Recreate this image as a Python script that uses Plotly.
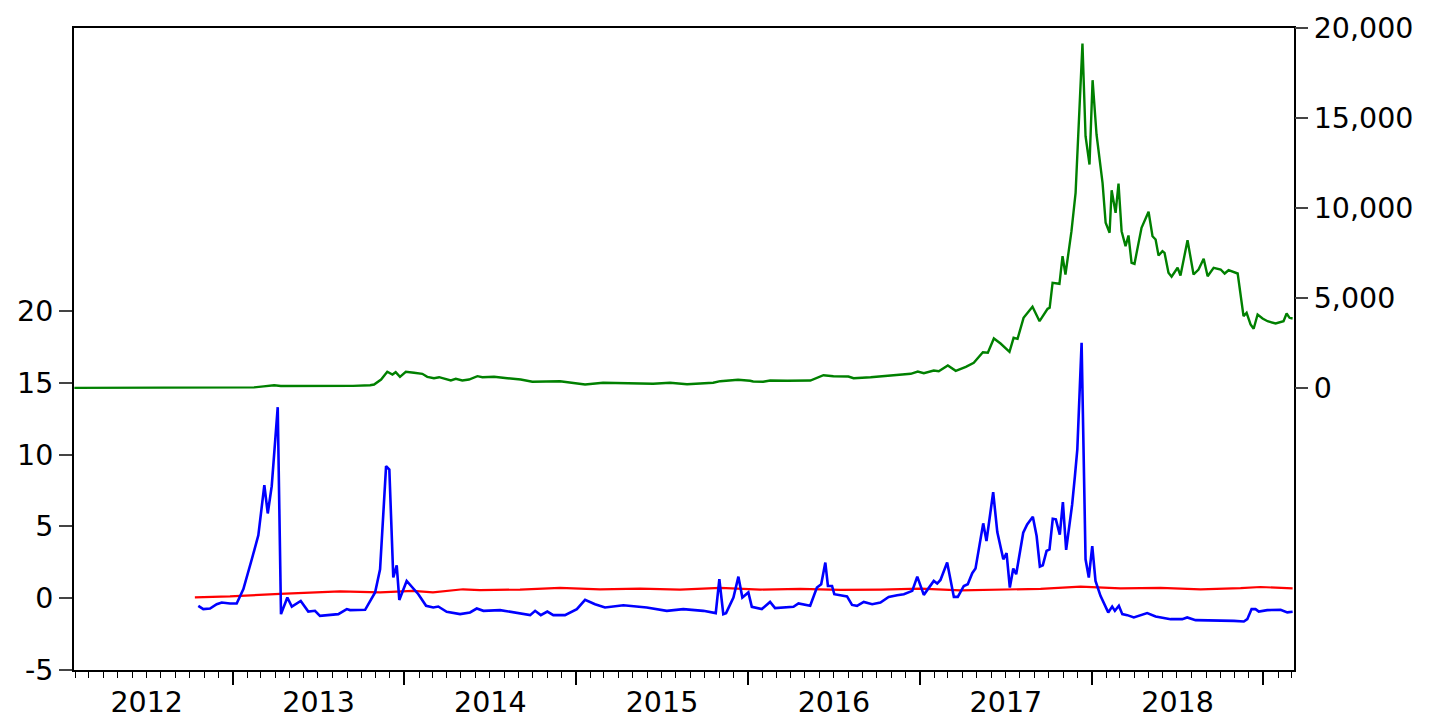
import pandas as pd
import plotly.graph_objects as go

# decimal-year positions
price_t = [2012.080, 2012.300, 2012.542, 2012.800, 2013.000, 2013.124, 2013.180, 2013.241,
           2013.280, 2013.400, 2013.550, 2013.700, 2013.800, 2013.823, 2013.864, 2013.900,
           2013.930, 2013.949, 2013.974, 2014.008, 2014.056, 2014.104, 2014.133, 2014.172,
           2014.202, 2014.270, 2014.299, 2014.337, 2014.376, 2014.425, 2014.454, 2014.522,
           2014.599, 2014.677, 2014.745, 2014.906, 2015.052, 2015.157, 2015.448, 2015.547,
           2015.646, 2015.798, 2015.839, 2015.943, 2016.013, 2016.031, 2016.089, 2016.130,
           2016.229, 2016.363, 2016.439, 2016.497, 2016.584, 2016.614, 2016.713, 2016.812,
           2016.946, 2016.987, 2017.022, 2017.080, 2017.109, 2017.162, 2017.208, 2017.267,
           2017.313, 2017.366, 2017.395, 2017.430, 2017.469, 2017.521, 2017.545, 2017.568,
           2017.603, 2017.655, 2017.696, 2017.743, 2017.755, 2017.772, 2017.812, 2017.830,
           2017.847, 2017.882, 2017.906, 2017.946, 2017.964, 2017.987, 2018.005, 2018.028,
           2018.063, 2018.081, 2018.104, 2018.116, 2018.139, 2018.156, 2018.174, 2018.197,
           2018.214, 2018.232, 2018.249, 2018.290, 2018.331, 2018.354, 2018.372, 2018.389,
           2018.412, 2018.424, 2018.447, 2018.465, 2018.500, 2018.517, 2018.558, 2018.593,
           2018.622, 2018.652, 2018.675, 2018.710, 2018.751, 2018.774, 2018.797, 2018.850,
           2018.861, 2018.884, 2018.902, 2018.925, 2018.943, 2018.966, 2018.995, 2019.024,
           2019.071, 2019.117, 2019.135, 2019.152, 2019.170]
price = [5, 5, 9, 11, 13, 35, 90, 150,
         110, 115, 95, 120, 150, 194, 472, 900,
         750, 878, 622, 900, 844, 789, 622, 544,
         600, 417, 511, 417, 472, 656, 600, 622,
         544, 472, 344, 378, 194, 289, 233, 289,
         211, 289, 378, 456, 400, 361, 344, 417,
         400, 417, 711, 656, 639, 544, 600, 694,
         789, 917, 822, 972, 933, 1250, 956, 1178,
         1400, 1989, 1956, 2750, 2472, 2011, 2789, 2733,
         3900, 4511, 3711, 4400, 4456, 5844, 5789, 7322,
         6306, 8711, 10844, 19140, 13989, 12417, 17100, 14083,
         11400, 9178, 8622, 10989, 9733, 11361, 8711, 7878,
         8472, 6956, 6900, 8900, 9789, 8433, 8250, 7361,
         7600, 7511, 6400, 6178, 6678, 6250, 8211, 6306,
         6583, 7178, 6211, 6678, 6583, 6361, 6544, 6361,
         5656, 3989, 4178, 3528, 3289, 4083, 3861, 3711,
         3583, 3711, 4139, 3900, 3861]

stat_t = [2012.800, 2012.829, 2012.868, 2012.907, 2012.936, 2012.984, 2013.023, 2013.062,
          2013.111, 2013.149, 2013.184, 2013.204, 2013.227, 2013.262, 2013.281, 2013.318,
          2013.344, 2013.396, 2013.440, 2013.479, 2013.508, 2013.615, 2013.664, 2013.683,
          2013.771, 2013.829, 2013.858, 2013.893, 2013.912, 2013.935, 2013.955, 2013.970,
          2014.013, 2014.081, 2014.126, 2014.168, 2014.197, 2014.246, 2014.324, 2014.382,
          2014.421, 2014.460, 2014.557, 2014.654, 2014.732, 2014.761, 2014.794, 2014.832,
          2014.867, 2014.935, 2015.004, 2015.052, 2015.110, 2015.168, 2015.275, 2015.411,
          2015.528, 2015.624, 2015.741, 2015.813, 2015.834, 2015.857, 2015.873, 2015.916,
          2015.945, 2015.968, 2016.003, 2016.023, 2016.081, 2016.129, 2016.158, 2016.265,
          2016.294, 2016.362, 2016.401, 2016.426, 2016.450, 2016.465, 2016.489, 2016.502,
          2016.576, 2016.605, 2016.634, 2016.673, 2016.722, 2016.770, 2016.818, 2016.867,
          2016.906, 2016.955, 2016.984, 2017.022, 2017.051, 2017.080, 2017.100, 2017.119,
          2017.158, 2017.197, 2017.220, 2017.255, 2017.278, 2017.304, 2017.323, 2017.368,
          2017.387, 2017.426, 2017.450, 2017.485, 2017.504, 2017.523, 2017.543, 2017.560,
          2017.601, 2017.624, 2017.657, 2017.679, 2017.698, 2017.715, 2017.737, 2017.754,
          2017.773, 2017.791, 2017.814, 2017.832, 2017.851, 2017.869, 2017.886, 2017.902,
          2017.916, 2017.941, 2017.964, 2017.983, 2018.003, 2018.022, 2018.051, 2018.096,
          2018.119, 2018.135, 2018.158, 2018.178, 2018.207, 2018.245, 2018.323, 2018.372,
          2018.459, 2018.527, 2018.556, 2018.605, 2018.711, 2018.828, 2018.886, 2018.906,
          2018.931, 2018.954, 2018.973, 2019.022, 2019.100, 2019.139, 2019.170]
stat = [-0.53, -0.76, -0.72, -0.42, -0.30, -0.37, -0.37, 0.63,
        2.71, 4.38, 7.87, 5.90, 7.80, 13.3, -1.11, 0.05,
        -0.58, -0.19, -0.93, -0.88, -1.23, -1.11, -0.76, -0.83,
        -0.81, 0.40, 2.01, 9.19, 8.96, 1.44, 2.29, -0.12,
        1.20, 0.28, -0.53, -0.65, -0.58, -0.95, -1.11, -0.99,
        -0.72, -0.88, -0.83, -1.04, -1.18, -0.88, -1.18, -0.93,
        -1.18, -1.18, -0.76, -0.12, -0.42, -0.65, -0.49, -0.65,
        -0.88, -0.76, -0.88, -1.04, 1.32, -1.11, -1.04, 0.05,
        1.50, 0.05, 0.40, -0.60, -0.76, -0.26, -0.69, -0.60,
        -0.37, -0.53, 0.74, 0.97, 2.48, 0.85, 0.85, 0.28,
        0.12, -0.47, -0.53, -0.26, -0.42, -0.30, 0.09, 0.21,
        0.28, 0.51, 1.50, 0.23, 0.74, 1.20, 1.02, 1.27,
        2.48, 0.09, 0.09, 0.85, 0.97, 1.74, 2.06, 5.21,
        3.98, 7.38, 4.60, 2.71, 3.13, 0.74, 2.06, 1.67,
        4.56, 5.14, 5.67, 4.33, 2.20, 2.29, 3.29, 3.40,
        5.53, 5.49, 4.42, 6.69, 3.36, 5.02, 6.53, 8.50,
        10.35, 17.78, 2.71, 1.44, 3.63, 1.20, 0.16, -0.99,
        -0.58, -0.88, -0.53, -1.11, -1.18, -1.34, -1.04, -1.27,
        -1.46, -1.46, -1.34, -1.53, -1.53, -1.58, -1.62, -1.46,
        -0.76, -0.76, -0.93, -0.83, -0.81, -0.99, -0.95]

cv_t = [2012.780, 2012.984, 2013.275, 2013.450, 2013.625, 2013.858, 2014.050, 2014.166,
        2014.341, 2014.440, 2014.673, 2014.906, 2015.139, 2015.372, 2015.605, 2015.839,
        2016.072, 2016.305, 2016.538, 2016.771, 2017.003, 2017.236, 2017.469, 2017.702,
        2017.935, 2018.168, 2018.401, 2018.634, 2018.867, 2018.983, 2019.170]
cv = [0.05, 0.12, 0.30, 0.40, 0.47, 0.40, 0.51, 0.40,
      0.62, 0.56, 0.60, 0.72, 0.62, 0.66, 0.60, 0.72,
      0.60, 0.65, 0.58, 0.60, 0.67, 0.55, 0.58, 0.65,
      0.80, 0.68, 0.72, 0.62, 0.70, 0.78, 0.68]

left_ticks = [-5, 0, 5, 10, 15, 20]
right_ticks = [0, 5000, 10000, 15000, 20000]


def to_date(y):
    yr = int(y)
    a = pd.Timestamp(year=yr, month=1, day=1)
    b = pd.Timestamp(year=yr + 1, month=1, day=1)
    return a + (b - a) * (y - yr)


FONT = "DejaVu Sans, Arial, sans-serif"

fig = go.Figure()
fig.add_trace(go.Scatter(x=[to_date(t) for t in cv_t], y=cv, mode="lines",
                         line=dict(color="#ff0000", width=2.2), yaxis="y"))
fig.add_trace(go.Scatter(x=[to_date(t) for t in stat_t], y=stat, mode="lines",
                         line=dict(color="#0000ff", width=2.6), yaxis="y"))
fig.add_trace(go.Scatter(x=[to_date(t) for t in price_t], y=price, mode="lines",
                         line=dict(color="#008000", width=2.4), yaxis="y2"))

# page body has an 8px margin, so the figure is shrunk by that much
fig.update_layout(
    width=1429, height=715,
    margin=dict(l=66, r=143, t=20, b=53, autoexpand=False),
    paper_bgcolor="white", plot_bgcolor="white",
    showlegend=False,
    font=dict(family=FONT, size=28.5, color="black"),
    xaxis=dict(type="date", range=[to_date(2012.078), to_date(2019.178)],
               tick0="2012-01-01", dtick="M12", ticklabelmode="period", tickformat="%Y",
               ticks="outside", ticklen=13, tickwidth=1.5, tickcolor="black",
               ticklabelstandoff=-7, automargin=False,
               showline=True, linecolor="black", linewidth=2, mirror=True,
               showgrid=False, zeroline=False,
               minor=dict(dtick="M1", ticks="outside", ticklen=6, tickcolor="black",
                          tickwidth=1, showgrid=False)),
    yaxis=dict(range=[-5, 39.7], tickvals=left_ticks, ticktext=[str(v) for v in left_ticks],
               ticks="outside", ticklen=13, tickwidth=1.5, tickcolor="#444",
               showline=True, linecolor="black", linewidth=2, mirror=True,
               showgrid=False, zeroline=False, automargin=False),
    yaxis2=dict(range=[-15667, 20000], tickvals=right_ticks,
                ticktext=[f"{v:,}" for v in right_ticks], overlaying="y", side="right",
                ticks="outside", ticklen=13, tickwidth=1.5, tickcolor="#444",
                showline=False, showgrid=False, zeroline=False, automargin=False),
)

fig.write_html("out.html")
